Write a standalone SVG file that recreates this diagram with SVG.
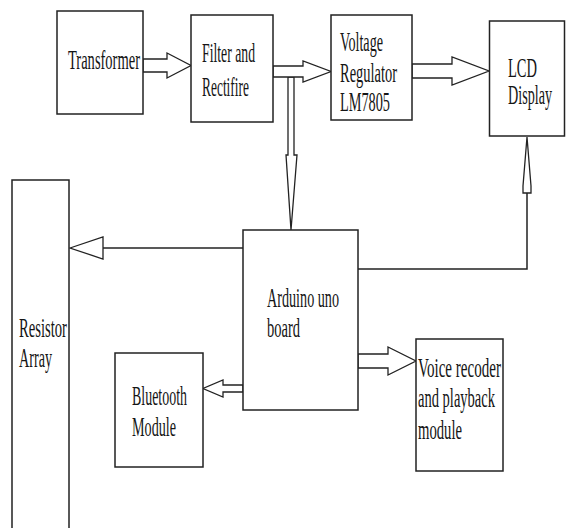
<svg xmlns="http://www.w3.org/2000/svg" width="566" height="528" viewBox="0 0 566 528">
<style>
.box{fill:#fff;stroke:#222;stroke-width:1.5}
.t{font-family:"Liberation Serif","Times New Roman",serif;font-size:27.5px;fill:#151515}
.c{fill:#fff;stroke:#222;stroke-width:1.3;stroke-linejoin:miter}
.l{fill:none;stroke:#222;stroke-width:1.5}
</style>
<rect width="566" height="528" fill="#fff"/>
<g id="connectors">
<polygon class="c" points="143,59 167,59 167,53 191,65.5 167,78 167,72 143,72"/>
<polygon class="c" points="288,77 294,77 294,155 297,155 291,230 286,155 288,155"/>
<polygon class="c" points="273,66 303,66 303,61 331,71.5 303,82 303,77 273,77"/>
<polygon class="c" points="412,64 452,64 452,57 489,71 452,85 452,78 412,78"/>
<polyline class="l" points="358,269 527,269 527,193"/>
<polygon class="c" points="527,137 531,186 531,193 523,193 523,186"/>
<line class="l" x1="243" y1="248" x2="103" y2="248"/>
<polygon class="c" points="70,248 103,237 103,259"/>
<polygon class="c" points="243,385 223,385 223,380 203,388.5 223,397 223,392 243,392"/>
<polygon class="c" points="358,354 388,354 388,347 416,361 388,375 388,368 358,368"/>
</g>
<g id="transformer">
<rect class="box" x="57" y="11" width="86" height="103"/>
<text class="t" x="68" y="69" textLength="72" lengthAdjust="spacingAndGlyphs">Transformer</text>
</g>
<g id="filter">
<rect class="box" x="191" y="15" width="82" height="107"/>
<text class="t" x="202" y="62" textLength="53" lengthAdjust="spacingAndGlyphs">Filter and</text>
<text class="t" x="202" y="96" textLength="47" lengthAdjust="spacingAndGlyphs">Rectifire</text>
</g>
<g id="regulator">
<rect class="box" x="331" y="15" width="81" height="105"/>
<text class="t" x="340" y="51" textLength="43" lengthAdjust="spacingAndGlyphs">Voltage</text>
<text class="t" x="340" y="82" textLength="57" lengthAdjust="spacingAndGlyphs">Regulator</text>
<text class="t" x="340" y="111" textLength="50" lengthAdjust="spacingAndGlyphs">LM7805</text>
</g>
<g id="lcd">
<rect class="box" x="489.5" y="21" width="75" height="115"/>
<text class="t" x="508" y="77" textLength="29" lengthAdjust="spacingAndGlyphs">LCD</text>
<text class="t" x="508" y="104" textLength="44" lengthAdjust="spacingAndGlyphs">Display</text>
</g>
<g id="resistor">
<rect class="box" x="12" y="180" width="57" height="360"/>
<text class="t" x="19" y="337" textLength="48" lengthAdjust="spacingAndGlyphs">Resistor</text>
<text class="t" x="19" y="367" textLength="33" lengthAdjust="spacingAndGlyphs">Array</text>
</g>
<g id="arduino">
<rect class="box" x="243" y="230" width="115" height="180"/>
<text class="t" x="267" y="307" textLength="72" lengthAdjust="spacingAndGlyphs">Arduino uno</text>
<text class="t" x="267" y="337" textLength="33" lengthAdjust="spacingAndGlyphs">board</text>
</g>
<g id="bluetooth">
<rect class="box" x="115" y="353" width="88" height="114"/>
<text class="t" x="132" y="405" textLength="55" lengthAdjust="spacingAndGlyphs">Bluetooth</text>
<text class="t" x="132" y="436" textLength="44" lengthAdjust="spacingAndGlyphs">Module</text>
</g>
<g id="voice">
<rect class="box" x="416" y="339" width="87" height="132"/>
<text class="t" x="418" y="377" textLength="83" lengthAdjust="spacingAndGlyphs">Voice recoder</text>
<text class="t" x="418" y="407" textLength="77" lengthAdjust="spacingAndGlyphs">and playback</text>
<text class="t" x="418" y="439" textLength="44" lengthAdjust="spacingAndGlyphs">module</text>
</g>
</svg>
